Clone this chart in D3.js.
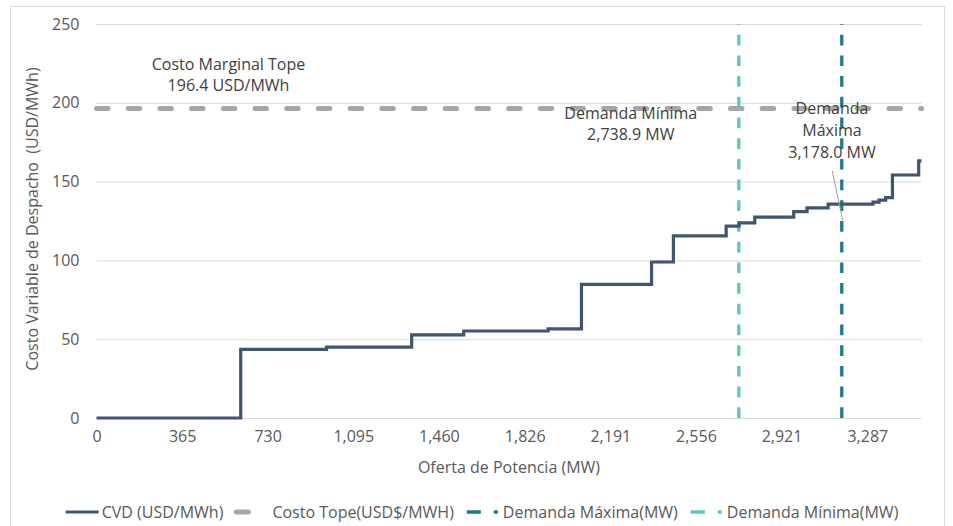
<!DOCTYPE html>
<html>
<head>
<meta charset="utf-8">
<script src="https://d3js.org/d3.v7.min.js"></script>
<style>
  body { margin: 0; background: #fff; }
  text { font-family: "Open Sans", sans-serif; }
</style>
</head>
<body>
<div id="chart"></div>
<script>
// supply curve: MW where each step starts, and its variable cost (USD/MWh)
const capacity = [0, 615, 981, 1344, 1566, 1926, 2068, 2367, 2460, 2685, 2740, 2807, 2973, 3030, 3120, 3311, 3337, 3365, 3394, 3506, 3518];
const cost = [0, 43.6, 45.0, 52.7, 55.2, 56.5, 84.8, 99.0, 115.5, 121.8, 123.8, 127.4, 131.0, 133.3, 135.7, 137.0, 138.3, 139.8, 154.2, 163.1, 163.1];

const xTicks = [0, 365, 730, 1095, 1460, 1826, 2191, 2556, 2921, 3287];
const yTicks = [0, 50, 100, 150, 200, 250];

const costCap = 196.4;
const demandMin = 2738.9;
const demandMax = 3178.0;

const legendNames = ["CVD (USD/MWh)", "Costo Tope(USD$/MWH)", "Demanda Máxima(MW)", "Demanda Mínima(MW)"];

var width = 953, height = 526;
var plot = { left: 96.5, right: 921.5, top: 24, bottom: 418 };

var colors = {
  cvd: "#3e5573",
  cap: "#a6a6a6",
  max: "#1f7b89",
  min: "#5cc7c1",
  grid: "#d9d9d9",
  axis: "#595959",
  note: "#404040"
};

var svg = d3.select("#chart")
  .append("svg")
  .attr("width", width)
  .attr("height", height);

// chart border
svg.append("rect")
  .attr("x", 10.5).attr("y", 6.5)
  .attr("width", 934).attr("height", 540)
  .attr("fill", "none")
  .attr("stroke", "#d9d9d9");

var x = d3.scaleLinear().domain([0, capacity[capacity.length - 1]]).range([plot.left, plot.right]);
var y = d3.scaleLinear().domain([0, 250]).range([plot.bottom, plot.top]);

// gridlines + Y axis
var yAxis = svg.append("g")
  .attr("transform", "translate(" + plot.left + ",0)")
  .call(d3.axisLeft(y).tickValues(yTicks).tickSize(-(plot.right - plot.left)).tickPadding(17));
yAxis.select(".domain").remove();
yAxis.selectAll(".tick line").attr("stroke", colors.grid);
yAxis.selectAll(".tick text")
  .attr("fill", colors.axis)
  .style("font-size", "16px");

// X axis (labels only)
var xAxis = svg.append("g")
  .attr("transform", "translate(0," + plot.bottom + ")")
  .call(d3.axisBottom(x).tickValues(xTicks).tickFormat(d3.format(",")).tickSize(0).tickPadding(13));
xAxis.select(".domain").remove();
xAxis.selectAll(".tick text")
  .attr("fill", colors.axis)
  .style("font-size", "16px");

// axis titles
svg.append("text")
  .attr("x", (plot.left + plot.right) / 2)
  .attr("y", 473)
  .attr("text-anchor", "middle")
  .attr("fill", colors.axis)
  .style("font-size", "16px")
  .text("Oferta de Potencia (MW)");

svg.append("text")
  .attr("transform", "translate(38," + ((plot.top + plot.bottom) / 2 - 2) + ") rotate(-90)")
  .attr("text-anchor", "middle")
  .attr("fill", colors.axis)
  .style("font-size", "16px")
  .style("white-space", "pre")
  .text("Costo Variable de Despacho  (USD/MWh)");

// cost cap line
svg.append("line")
  .attr("x1", x(0)).attr("x2", plot.right)
  .attr("y1", y(costCap)).attr("y2", y(costCap))
  .attr("stroke", colors.cap)
  .attr("stroke-width", 5)
  .attr("stroke-linecap", "round")
  .attr("stroke-dasharray", "11.5,20.2");

// demand lines, drawn bottom-up like excel
[[demandMin, colors.min], [demandMax, colors.max]].forEach(function (d) {
  svg.append("line")
    .attr("x1", x(d[0])).attr("x2", x(d[0]))
    .attr("y1", y(0)).attr("y2", y(250))
    .attr("stroke", d[1])
    .attr("stroke-width", 3.3)
    .attr("stroke-dasharray", "10.7,10");
});

// supply step line
var points = capacity.map(function (c, i) { return [c, cost[i]]; });
var line = d3.line()
  .x(function (d) { return x(d[0]); })
  .y(function (d) { return y(d[1]); })
  .curve(d3.curveStepAfter);

svg.append("path")
  .datum(points)
  .attr("d", line)
  .attr("fill", "none")
  .attr("stroke", colors.cvd)
  .attr("stroke-width", 3.2)
  .attr("stroke-linejoin", "miter");

// annotations
function note(lines, cx, cy) {
  var t = svg.append("text")
    .attr("text-anchor", "middle")
    .attr("fill", colors.note)
    .style("font-size", "16px");
  lines.forEach(function (s, i) {
    t.append("tspan")
      .attr("x", cx)
      .attr("y", cy + i * 21.7)
      .attr("dy", "0.35em")
      .text(s);
  });
}

note(["Costo Marginal Tope", costCap.toFixed(1) + " USD/MWh"], 228.5, 64);
note(["Demanda Mínima", d3.format(",.1f")(demandMin) + " MW"], 630.8, 113);
note(["Demanda", "Máxima", d3.format(",.1f")(demandMax) + " MW"], 832, 108.5);

// leader from Máxima label to its line
svg.append("line")
  .attr("x1", 832.3).attr("y1", 171)
  .attr("x2", x(demandMax) + 0.8).attr("y2", 220)
  .attr("stroke", "#a0a0a0")
  .attr("stroke-width", 1);

// legend
var legendStyles = [
  { color: colors.cvd, w: 3, dash: null, cap: "butt" },
  { color: colors.cap, w: 5, dash: "12,19", cap: "round" },
  { color: colors.max, w: 3.3, dash: "14,13", cap: "butt" },
  { color: colors.min, w: 3.3, dash: "14,13", cap: "butt" }
];

var legend = svg.append("g");
var lx = 0;
legendNames.forEach(function (name, i) {
  var st = legendStyles[i];
  var g = legend.append("g").attr("transform", "translate(" + lx + ",0)");
  g.append("line")
    .attr("x1", 0).attr("x2", i === 0 ? 33 : 31)
    .attr("y1", 0).attr("y2", 0)
    .attr("stroke", st.color)
    .attr("stroke-width", st.w)
    .attr("stroke-linecap", st.cap)
    .attr("stroke-dasharray", st.dash);
  var t = g.append("text")
    .attr("x", 36)
    .attr("dy", "0.35em")
    .attr("fill", colors.axis)
    .style("font-size", "16px")
    .text(name);
  lx += 36 + t.node().getComputedTextLength() + 13;
});
legend.attr("transform", "translate(" + (482 - (lx - 13) / 2) + ",512)");
</script>
</body>
</html>
